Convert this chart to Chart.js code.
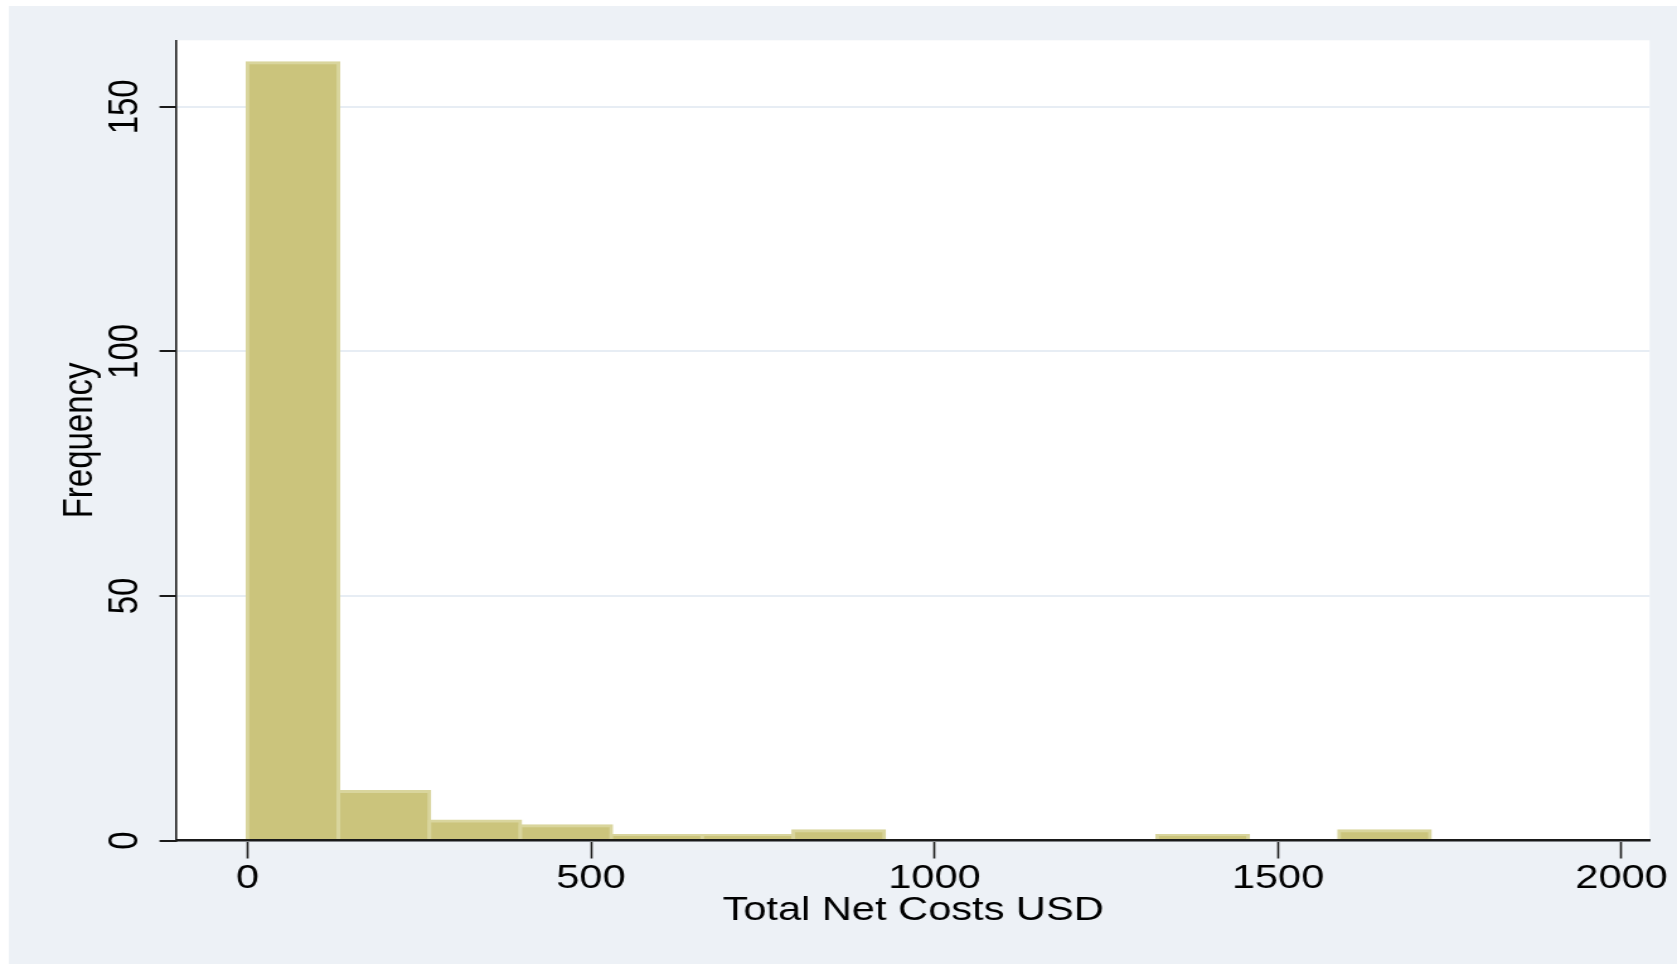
<!DOCTYPE html>
<html>
<head>
<meta charset="utf-8">
<script src="https://cdn.jsdelivr.net/npm/chart.js@4.4.1/dist/chart.umd.min.js"></script>
<style>
  html, body { margin: 0; padding: 0; background: #ffffff; }
  #c { display: block !important; width: 1677px !important; height: 964px !important; }
</style>
</head>
<body>
<canvas id="c" width="1331" height="964" style="width:1677px;height:964px;"></canvas>
<script>
// ---- data (histogram of Total Net Costs USD) ----
const binEdges = [0, 132.4, 264.8, 397.2, 529.6, 662, 794.4, 926.8, 1059.2, 1191.6, 1324, 1456.4, 1588.8, 1721.2];
const frequencies = [159, 10, 4, 3, 1, 1, 2, 0, 0, 0, 1, 0, 2];
const xTickValues = [0, 500, 1000, 1500, 2000];
const yTickValues = [0, 50, 100, 150];
const xTitle = 'Total Net Costs USD';
const yTitle = 'Frequency';

// ---- style ----
const FONT = "'Liberation Sans', Arial, sans-serif";
const BAR_FILL = '#cbc47c';
const BAR_EDGE = '#d9d59d';
const PANEL_BG = '#edf1f6';
const GRID = '#e7edf4';
const INK = '#1a1a1a';

const points = frequencies.map((f, i) => ({ x: (binEdges[i] + binEdges[i + 1]) / 2, y: f }));

const backgroundPlugin = {
  id: 'panels',
  beforeDraw(chart) {
    const { ctx, chartArea: a, width, height } = chart;
    ctx.save();
    ctx.fillStyle = '#ffffff';
    ctx.fillRect(0, 0, width, height);
    ctx.fillStyle = PANEL_BG;
    ctx.fillRect(7.1, 6, width - 7.1, height - 6);
    ctx.fillStyle = '#ffffff';
    ctx.fillRect(a.left, a.top, a.right - a.left, a.bottom - a.top);
    ctx.restore();
  }
};

new Chart(document.getElementById('c'), {
  type: 'bar',
  data: {
    datasets: [{
      data: points,
      backgroundColor: BAR_FILL,
      borderColor: BAR_EDGE,
      borderWidth: c => (c.raw && c.raw.y ? 3 : 0),
      inflateAmount: c => (c.raw && c.raw.y ? 1.5 : 0),
      borderSkipped: 'start',
      barPercentage: 1,
      categoryPercentage: 1
    }]
  },
  plugins: [backgroundPlugin],
  options: {
    responsive: false,
    animation: false,
    devicePixelRatio: 1,
    layout: { padding: { left: 44, top: 40.3, right: 21.7, bottom: 33.4 } },
    plugins: { legend: { display: false }, tooltip: { enabled: false }, title: { display: false } },
    scales: {
      x: {
        type: 'linear',
        min: -103.2,
        max: 2040.9,
        offset: false,
        afterBuildTicks: s => { s.ticks = xTickValues.map(v => ({ value: v })); },
        afterFit: s => { s.height = 90.1; },
        grid: {
          display: true, offset: false, drawOnChartArea: false, drawTicks: true,
          tickLength: 18, tickWidth: 1.6, tickColor: INK, z: -1
        },
        border: { display: true, color: INK, width: 2.5, z: 1 },
        ticks: {
          autoSkip: false, maxRotation: 0, minRotation: 0, padding: 1,
          color: '#000', font: { family: FONT, size: 33 },
          callback: v => String(v)
        },
        title: {
          display: true, text: xTitle, color: '#000',
          font: { family: FONT, size: 33 }, padding: { top: 0, bottom: 0 }
        }
      },
      y: {
        type: 'linear',
        min: 0,
        max: 163.6,
        afterBuildTicks: s => { s.ticks = yTickValues.map(v => ({ value: v })); },
        afterFit: s => { s.width = 96.1; },
        grid: {
          display: true, drawOnChartArea: true, drawTicks: true, color: GRID, lineWidth: 2,
          tickLength: 13.5, tickWidth: 2, tickColor: INK
        },
        border: { display: true, color: INK, width: 1.6 },
        ticks: {
          minRotation: 90, maxRotation: 90, crossAlign: 'center', padding: -1,
          color: '#000', font: { family: FONT, size: 33 },
          callback: v => String(v)
        },
        title: {
          display: true, text: yTitle, color: '#000',
          font: { family: FONT, size: 33 }, padding: { top: 0, bottom: 0 }
        }
      }
    }
  }
});
</script>
</body>
</html>
